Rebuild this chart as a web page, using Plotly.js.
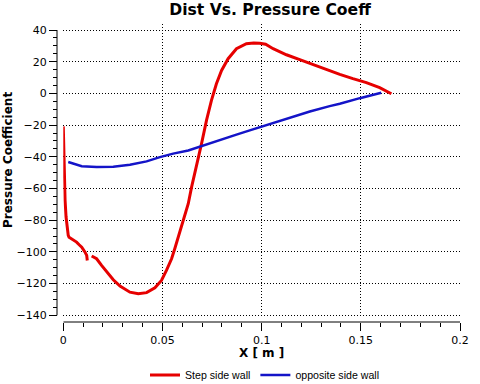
<!DOCTYPE html>
<html>
<head>
<meta charset="utf-8">
<script src="https://cdn.plot.ly/plotly-3.0.1.min.js"></script>
<style>
  html, body { margin: 0; padding: 0; background: #fff; }
  #chart { width: 480px; height: 384px; }
</style>
</head>
<body>
<div id="chart"></div>
<script>
// Step side wall pressure coefficient along X (null marks the break in the curve)
const stepX = [0.0, 0.0004, 0.0009, 0.0014, 0.0017, 0.0025, 0.0029, 0.0042, 0.0055, 0.0067, 0.0080, 0.0093, 0.0109, 0.0118, 0.0121,
  null,
  0.0143, 0.0168, 0.0193, 0.0219, 0.0252, 0.0286, 0.0336, 0.0378, 0.0420, 0.0462, 0.0495, 0.0520, 0.0546, 0.0562, 0.0588,
  0.0604, 0.0613, 0.0630, 0.0647, 0.0680, 0.0697, 0.0722, 0.0747, 0.0772, 0.0798, 0.0831, 0.0873, 0.0923, 0.0960, 0.0990,
  0.1020, 0.1058, 0.1125, 0.1192, 0.1259, 0.1327, 0.1394, 0.1460, 0.1528, 0.1595, 0.1628, 0.1654];
const stepCp = [-20.8, -50, -67.5, -78, -82, -89.6, -90.7, -91.7, -92.5, -93.8, -95.5, -97, -100, -102.2, -105.4,
  null,
  -102.6, -104.3, -108.5, -112.7, -117.6, -121.6, -125.4, -126.4, -125.7, -122.6, -118, -111.7, -104.3, -98, -87.5,
  -80, -77, -69.6, -59, -42.3, -31.7, -17, -4.4, 6.1, 14.5, 21.9, 28.2, 31.4, 31.8, 31.6,
  31.0, 28.2, 24.4, 21.3, 18.1, 15.0, 12.0, 9.3, 6.8, 3.6, 1.5, -0.2];

// Opposite side wall pressure coefficient along X
const oppX = [0.0025, 0.0093, 0.0168, 0.0252, 0.0336, 0.0420, 0.0487, 0.0554, 0.0630, 0.0705, 0.0789, 0.0873, 0.0940, 0.0990,
  0.1041, 0.1142, 0.1243, 0.1343, 0.1394, 0.1495, 0.1603];
const oppCp = [-43.3, -45.9, -46.5, -46.3, -45.0, -42.9, -40.2, -38.0, -36.0, -32.8, -29.7, -26.0, -23.3, -21.3,
  -19.6, -15.3, -11.4, -8.0, -6.5, -3.0, 0.4];

const seriesNames = ['Step side wall', 'opposite side wall'];
const xTicks = [0, 0.05, 0.1, 0.15, 0.2];
const xTickText = ['0', '0.05', '0.1', '0.15', '0.2'];
const yTicks = [-140, -120, -100, -80, -60, -40, -20, 0, 20, 40];

const font = 'DejaVu Sans, Verdana, sans-serif';
const legendFont = 'Liberation Sans, Arial, sans-serif';

const traces = [
  { x: stepX, y: stepCp, name: seriesNames[0], mode: 'lines', connectgaps: false,
    line: { color: '#e60000', width: 3 } },
  { x: oppX, y: oppCp, name: seriesNames[1], mode: 'lines',
    line: { color: '#1414c8', width: 2.5 } }
];

const layout = {
  width: 480, height: 384,
  paper_bgcolor: '#fff', plot_bgcolor: '#fff',
  margin: { l: 50, r: 20, t: 24, b: 54 },
  font: { family: font, size: 11, color: '#000' },
  showlegend: true,
  title: { text: 'Dist Vs. Pressure Coeff', font: { family: font, size: 15.6, weight: 'bold', color: '#000' },
           x: 0.5625, xanchor: 'center', xref: 'container', y: 0.974, yanchor: 'middle', yref: 'container' },
  xaxis: {
    range: [0, 0.2], domain: [0.0324, 1], anchor: 'free', position: 0.0261,
    tickvals: xTicks, ticktext: xTickText,
    ticks: 'outside', ticklen: 8, tickcolor: '#000', tickwidth: 1,
    minor: { dtick: 0.01, ticks: 'outside', ticklen: 4, tickcolor: '#000', showgrid: false },
    showgrid: true, gridcolor: '#000', gridwidth: 1, griddash: '1px,2px',
    zeroline: false, showline: false,
    tickfont: { family: font, size: 11, color: '#000' },
    title: { text: 'X [ m ]', font: { family: font, size: 12, weight: 'bold', color: '#000' }, standoff: 10 }
  },
  yaxis: {
    range: [-141.7, 43.8], domain: [0.0392, 1], anchor: 'free', position: 0.0171,
    tickvals: yTicks,
    ticks: 'outside', ticklen: 8, tickcolor: '#000', tickwidth: 1,
    minor: { dtick: 5, ticks: 'outside', ticklen: 4, tickcolor: '#000', showgrid: false },
    showgrid: true, gridcolor: '#000', gridwidth: 1, griddash: '1px,2px',
    zeroline: false, showline: false,
    tickfont: { family: font, size: 11, color: '#000' }
  },
  annotations: [
    // y-axis title, set to the left of the tick labels
    { text: 'Pressure Coefficient', textangle: -90, xref: 'paper', yref: 'paper',
      x: (8 - 50) / 410, y: (330 - 160) / 306, xanchor: 'center', yanchor: 'middle', showarrow: false,
      font: { family: font, size: 12, weight: 'bold', color: '#000' } }
  ],
  legend: {
    orientation: 'h', xref: 'container', yref: 'container', x: 145 / 480, xanchor: 'left', y: 1 - 375 / 384, yanchor: 'middle',
    font: { family: legendFont, size: 10.6, color: '#000' }, itemwidth: 30, bgcolor: 'rgba(0,0,0,0)'
  },
  shapes: [
    // axis lines span only the labelled tick range
    { type: 'line', xref: 'paper', yref: 'y', x0: 0.0171, x1: 0.0171, y0: -140, y1: 40, line: { color: '#000', width: 1 } },
    { type: 'line', xref: 'x', yref: 'paper', x0: 0, x1: 0.2, y0: 0.0261, y1: 0.0261, line: { color: '#000', width: 1 } }
  ]
};

Plotly.newPlot('chart', traces, layout, { staticPlot: true, displayModeBar: false });
</script>
</body>
</html>
